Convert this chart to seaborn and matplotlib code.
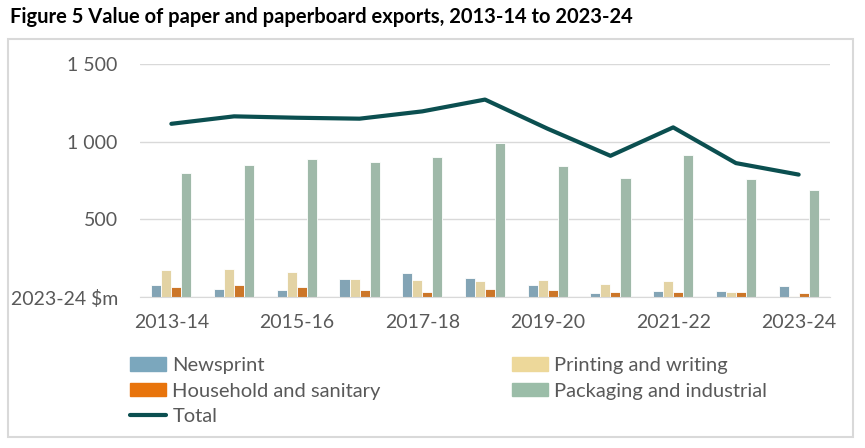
import seaborn as sns
import matplotlib.pyplot as plt
import matplotlib.patches as mpatches
import numpy as np
import pandas as pd

# Datos (2023-24 $m)
years = ['2013-14', '2014-15', '2015-16', '2016-17', '2017-18', '2018-19',
         '2019-20', '2020-21', '2021-22', '2022-23', '2023-24']
newsprint = [75, 50, 43, 118, 155, 123, 75, 24, 39, 39, 69]
printing = [177, 183, 159, 116, 108, 103, 108, 86, 106, 32, 6]
household = [62, 75, 67, 47, 34, 52, 45, 30, 32, 30, 24]
packaging = [797, 853, 887, 868, 900, 993, 844, 769, 917, 762, 687]
total = [1115, 1163, 1154, 1148, 1195, 1271, 1083, 909, 1092, 862, 788]

series = ['Newsprint', 'Printing and writing', 'Household and sanitary', 'Packaging and industrial']
colors = ['#7BA7BD', '#EDD89A', '#E8740C', '#9BBDA8']
line_color = '#0B4F50'
text_color = '#595959'

df = pd.DataFrame({'year': years, 'Newsprint': newsprint, 'Printing and writing': printing,
                   'Household and sanitary': household, 'Packaging and industrial': packaging})
df_long = df.melt(id_vars='year', var_name='serie', value_name='valor')

sns.set_style('white')
plt.rcParams['font.family'] = ['Lato', 'DejaVu Sans']

fig = plt.figure(figsize=(8.65, 4.48), dpi=100)
ax = fig.add_axes([140 / 865, 1 - 297 / 448, 690 / 865, 233 / 448])

sns.barplot(data=df_long, x='year', y='valor', hue='serie', hue_order=series,
            palette=colors, width=0.64, gap=0, edgecolor='white', linewidth=0.6,
            ax=ax, legend=False)
sns.lineplot(x=np.arange(len(years)), y=total, color=line_color, linewidth=3,
             ax=ax, legend=False)

ax.set_ylim(0, 1500)
ax.set_xlim(-0.5, len(years) - 0.5)
ax.set_yticks([0, 500, 1000, 1500])
ax.set_yticklabels(['2023-24 $m', '500', '1 000', '1 500'])
ax.set_xticks(range(0, len(years), 2))
ax.set_xticklabels(years[::2])
ax.set_xlabel('')
ax.set_ylabel('')
ax.tick_params(axis='both', length=0, labelsize=14, labelcolor=text_color)
ax.tick_params(axis='x', pad=12)
ax.tick_params(axis='y', pad=16)
ax.grid(axis='y', color='#D9D9D9', linewidth=1)
ax.set_axisbelow(True)
for s in ['top', 'left', 'right']:
    ax.spines[s].set_visible(False)
ax.spines['bottom'].set_color('#D9D9D9')

# Leyenda (dos columnas)
handles = [mpatches.Patch(color=colors[0], label=series[0]),
           mpatches.Patch(color=colors[2], label=series[2]),
           plt.Line2D([], [], color=line_color, linewidth=3, label='Total'),
           mpatches.Patch(color=colors[1], label=series[1]),
           mpatches.Patch(color=colors[3], label=series[3])]
leg = fig.legend(handles=handles, ncol=2, loc='upper left', bbox_to_anchor=(122 / 865, 1 - 349 / 448),
                 frameon=False, fontsize=14.5, handlelength=1.8, handleheight=0.65,
                 handletextpad=0.3, labelspacing=0.42, columnspacing=6.5, borderaxespad=0)
for t in leg.get_texts():
    t.set_color(text_color)

# Título y marco
fig.text(10 / 865, 1 - 17 / 448, 'Figure 5 Value of paper and paperboard exports, 2013-14 to 2023-24',
         fontsize=14.5, fontweight='bold', color='black', va='center', ha='left')
fig.patches.append(mpatches.Rectangle((8 / 865, 1 - 437 / 448), 845 / 865, 398 / 448,
                                      transform=fig.transFigure, fill=False,
                                      edgecolor='#D9D9D9', linewidth=1.5))

plt.savefig('out.png', dpi=100)
